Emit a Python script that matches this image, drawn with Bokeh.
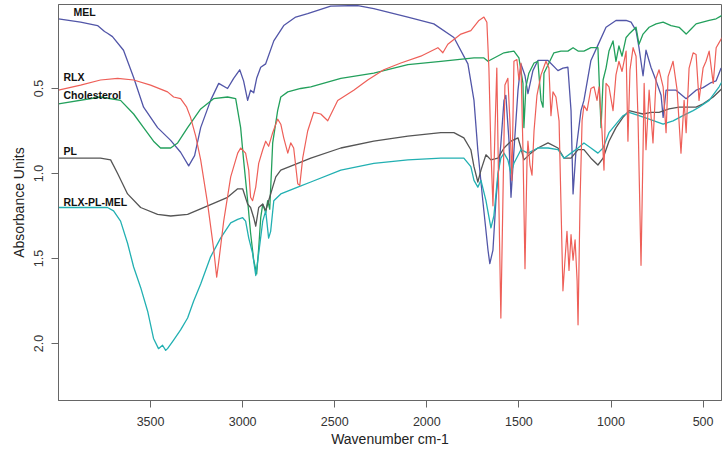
from bokeh.plotting import figure
from bokeh.models import Range1d, FixedTicker, NumeralTickFormatter
from bokeh.core.properties import value
from bokeh.embed import file_html
from bokeh.resources import INLINE

# ---------------- data (wavenumber cm-1, absorbance) ----------------
mel_wn = [4000, 3880, 3788, 3750, 3734, 3707, 3647, 3592, 3538, 3462, 3391, 3337, 3293, 3261, 3228,
          3174, 3130, 3082, 3049, 3016, 2995, 2973, 2957, 2940, 2924, 2902, 2875, 2831, 2777, 2712,
          2647, 2522, 2375, 2288, 2103, 1962, 1853, 1777, 1744, 1723, 1696, 1668, 1658, 1641, 1625,
          1598, 1581, 1571, 1554, 1543, 1527, 1505, 1489, 1467, 1451, 1424, 1397, 1342, 1288, 1261,
          1234, 1217, 1206, 1190, 1163, 1147, 1109, 1071, 1027, 973, 918, 891, 864, 848, 826, 810,
          783, 755, 728, 717, 701, 647, 592, 538, 500, 456, 429, 402]
mel_abs = [0.09, 0.11, 0.13, 0.165, 0.175, 0.195, 0.275, 0.435, 0.61, 0.73, 0.805, 0.875, 0.955, 0.895, 0.73,
           0.57, 0.47, 0.50, 0.44, 0.39, 0.455, 0.57, 0.51, 0.525, 0.44, 0.375, 0.355, 0.22, 0.13, 0.08,
           0.06, 0.015, 0.012, 0.03, 0.08, 0.12, 0.20, 0.355, 0.57, 0.865, 1.16, 1.45, 1.53, 1.45, 1.16,
           0.825, 0.57, 0.54, 0.805, 1.14, 0.865, 0.51, 0.355, 0.425, 0.53, 0.395, 0.335, 0.335, 0.395, 0.38,
           0.375, 0.63, 1.12, 0.865, 0.63, 0.57, 0.335, 0.245, 0.14, 0.10, 0.10, 0.11, 0.16, 0.26, 0.425, 0.275,
           0.375, 0.455, 0.54, 0.67, 0.51, 0.51, 0.56, 0.51, 0.495, 0.465, 0.455, 0.38]

rlx_wn = [4000, 3880, 3772, 3679, 3592, 3500, 3408, 3375, 3337, 3304, 3283, 3255, 3228, 3190, 3158,
          3141, 3130, 3103, 3065, 3027, 3011, 2984, 2967, 2957, 2946, 2929, 2913, 2891, 2875, 2859,
          2837, 2810, 2793, 2777, 2755, 2739, 2723, 2701, 2690, 2674, 2647, 2614, 2576, 2538, 2484,
          2397, 2321, 2234, 2141, 2033, 1940, 1913, 1886, 1815, 1761, 1717, 1690, 1674, 1663, 1652,
          1641, 1630, 1620, 1609, 1598, 1587, 1576, 1560, 1549, 1538, 1527, 1511, 1500, 1489, 1478,
          1467, 1456, 1451, 1440, 1429, 1418, 1402, 1380, 1353, 1337, 1326, 1315, 1299, 1282, 1272,
          1261, 1250, 1239, 1228, 1217, 1206, 1195, 1184, 1179, 1168, 1157, 1147, 1130, 1109, 1092,
          1076, 1065, 1049, 1038, 1027, 1011, 989, 973, 957, 940, 918, 908, 897, 880, 864,
          853, 837, 826, 820, 810, 793, 772, 755, 739, 717, 701, 690, 663, 641, 620,
          603, 592, 576, 554, 538, 522, 500, 484, 467, 445, 429, 413, 397]
rlx_abs = [0.51, 0.48, 0.45, 0.44, 0.45, 0.48, 0.52, 0.55, 0.56, 0.61, 0.67, 0.78, 0.92, 1.18, 1.44,
           1.61, 1.52, 1.28, 1.02, 0.88, 0.85, 0.88, 0.98, 1.14, 1.16, 1.08, 0.94, 0.86, 0.81, 0.84,
           0.76, 0.68, 0.71, 0.79, 0.88, 0.82, 0.85, 1.06, 1.07, 0.91, 0.75, 0.64, 0.65, 0.69, 0.57,
           0.51, 0.45, 0.39, 0.35, 0.31, 0.26, 0.29, 0.24, 0.18, 0.16, 0.10, 0.08, 0.11, 0.38, 0.86,
           1.19, 0.75, 0.38, 1.16, 1.85, 1.16, 0.48, 0.44, 0.69, 1.04, 0.34, 0.33, 0.45, 0.35, 0.86,
           1.56, 0.92, 0.81, 0.95, 1.01, 0.75, 0.54, 0.42, 0.34, 0.38, 0.66, 0.52, 0.55, 0.69, 1.16,
           1.69, 1.51, 1.34, 1.57, 1.36, 1.51, 1.39, 1.63, 1.89, 1.16, 0.69, 0.60, 0.63, 0.50, 0.49,
           0.57, 0.49, 0.75, 0.98, 0.47, 0.49, 0.63, 0.42, 0.34, 0.40, 0.28, 0.81, 0.39, 0.26, 0.31,
           0.69, 1.54, 0.86, 0.47, 0.86, 0.51, 0.82, 0.44, 0.39, 0.49, 0.76, 0.43, 0.34, 0.51, 0.88,
           0.57, 0.76, 0.38, 0.29, 0.30, 0.57, 0.38, 0.34, 0.28, 0.47, 0.26, 0.23, 0.20]

chol_wn = [4000, 3772, 3663, 3592, 3538, 3484, 3446, 3391, 3353, 3299, 3228, 3158, 3082, 3038, 3011,
           2995, 2973, 2957, 2940, 2924, 2913, 2902, 2891, 2875, 2864, 2853, 2837, 2810, 2793, 2755,
           2685, 2630, 2467, 2288, 2103, 1924, 1744, 1690, 1668, 1581, 1527, 1500, 1478, 1473, 1462,
           1446, 1418, 1397, 1380, 1369, 1364, 1337, 1310, 1272, 1234, 1206, 1179, 1147, 1109, 1071,
           1060, 1054, 1043, 1027, 1011, 989, 973, 957, 940, 918, 902, 864, 848, 826, 793,
           755, 717, 674, 630, 592, 565, 538, 467, 429, 397]
chol_abs = [0.59, 0.55, 0.57, 0.65, 0.73, 0.81, 0.85, 0.85, 0.82, 0.73, 0.62, 0.56, 0.55, 0.56, 0.73,
            0.92, 1.16, 1.35, 1.51, 1.59, 1.44, 1.26, 1.18, 1.23, 1.16, 1.21, 0.82, 0.63, 0.55, 0.52,
            0.50, 0.49, 0.44, 0.41, 0.36, 0.34, 0.32, 0.32, 0.34, 0.29, 0.28, 0.32, 0.47, 0.73, 0.49,
            0.41, 0.35, 0.34, 0.57, 0.61, 0.41, 0.35, 0.29, 0.28, 0.28, 0.26, 0.28, 0.28, 0.26, 0.26,
            0.57, 0.73, 0.45, 0.38, 0.28, 0.22, 0.34, 0.25, 0.31, 0.20, 0.18, 0.14, 0.24, 0.18, 0.14,
            0.12, 0.11, 0.13, 0.14, 0.18, 0.15, 0.12, 0.10, 0.09, 0.07]

pl_wn = [4000, 3772, 3717, 3679, 3625, 3554, 3462, 3391, 3299, 3190, 3082, 3027, 3000, 2973, 2957,
         2940, 2929, 2913, 2891, 2875, 2859, 2837, 2820, 2793, 2701, 2630, 2467, 2288, 2103, 1924,
         1853, 1799, 1761, 1744, 1723, 1706, 1679, 1652, 1614, 1581, 1543, 1505, 1489, 1473, 1435,
         1397, 1342, 1288, 1255, 1217, 1179, 1147, 1109, 1071, 1043, 1011, 973, 935, 902, 864,
         826, 783, 739, 685, 630, 576, 538, 500, 445, 397]
pl_abs = [0.91, 0.91, 0.92, 1.00, 1.12, 1.20, 1.24, 1.25, 1.24, 1.19, 1.14, 1.09, 1.09, 1.18, 1.20,
          1.26, 1.31, 1.20, 1.18, 1.22, 1.16, 1.08, 1.02, 0.98, 0.94, 0.91, 0.85, 0.81, 0.78, 0.76,
          0.76, 0.79, 0.86, 0.96, 1.05, 0.98, 0.89, 0.92, 0.91, 0.85, 0.81, 0.79, 0.85, 0.92, 0.88,
          0.85, 0.82, 0.85, 0.91, 0.91, 0.86, 0.86, 0.91, 0.95, 0.91, 0.81, 0.73, 0.67, 0.63, 0.64,
          0.65, 0.64, 0.64, 0.62, 0.61, 0.61, 0.61, 0.59, 0.55, 0.50]

mix_wn = [4000, 3734, 3701, 3663, 3625, 3592, 3554, 3516, 3484, 3457, 3435, 3418, 3408, 3375, 3337,
          3299, 3266, 3228, 3174, 3120, 3065, 3027, 3000, 2984, 2967, 2946, 2929, 2913, 2891, 2875,
          2859, 2848, 2831, 2793, 2701, 2630, 2467, 2288, 2103, 1924, 1799, 1761, 1744, 1723, 1706,
          1679, 1652, 1636, 1614, 1598, 1581, 1560, 1543, 1527, 1489, 1451, 1397, 1342, 1288, 1255,
          1217, 1179, 1147, 1109, 1071, 1043, 1011, 973, 935, 902, 848, 793, 717, 663, 609,
          554, 522, 467, 413, 397]
mix_abs = [1.20, 1.20, 1.22, 1.28, 1.41, 1.55, 1.67, 1.81, 1.97, 2.03, 2.01, 2.04, 2.03, 1.98, 1.92,
           1.85, 1.75, 1.65, 1.49, 1.38, 1.29, 1.27, 1.26, 1.28, 1.38, 1.47, 1.60, 1.47, 1.28, 1.22,
           1.38, 1.34, 1.16, 1.12, 1.08, 1.05, 0.98, 0.94, 0.92, 0.91, 0.91, 0.96, 1.04, 1.08, 1.04,
           1.16, 1.32, 1.25, 1.00, 0.91, 0.88, 0.92, 1.00, 0.94, 0.86, 0.88, 0.85, 0.85, 0.86, 0.91,
           0.88, 0.85, 0.82, 0.85, 0.88, 0.85, 0.76, 0.71, 0.66, 0.64, 0.66, 0.68, 0.71, 0.69, 0.66,
           0.63, 0.61, 0.57, 0.49, 0.46]

series_names = ["MEL", "RLX", "Cholesterol", "PL", "RLX-PL-MEL"]
label_wn = [3918, 3973, 3973, 3973, 3973]
label_abs = [0.05, 0.43, 0.54, 0.87, 1.165]

x_ticks = [3500, 3000, 2500, 2000, 1500, 1000, 500]
y_ticks = [0.5, 1.0, 1.5, 2.0]

# ---------------- figure ----------------
p = figure(width=725, height=450, output_backend="svg", toolbar_location=None,
           x_range=Range1d(4000, 400), y_range=Range1d(2.335, 0.006),
           min_border_left=58, min_border_right=4, min_border_top=4, min_border_bottom=50)
p.grid.visible = False
p.outline_line_color = "#666666"
p.outline_line_width = 1
p.background_fill_color = "white"
p.border_fill_color = "white"

colors = {"MEL": "#5256a8", "RLX": "#ee5f58", "Cholesterol": "#23a05c",
          "PL": "#555555", "RLX-PL-MEL": "#22b0b2"}

p.line(mel_wn, mel_abs, line_color=colors["MEL"], line_width=1.3, line_join="round")
p.line(chol_wn, chol_abs, line_color=colors["Cholesterol"], line_width=1.3, line_join="round")
p.line(pl_wn, pl_abs, line_color=colors["PL"], line_width=1.3, line_join="round")
p.line(mix_wn, mix_abs, line_color=colors["RLX-PL-MEL"], line_width=1.3, line_join="round")
p.line(rlx_wn, rlx_abs, line_color=colors["RLX"], line_width=1.2, line_join="round")

p.text(x=label_wn, y=label_abs, text=series_names, text_font=value("Liberation Sans"),
       text_font_size="10.5px", text_font_style="bold", text_color="#111111",
       text_baseline="middle", text_align="left")

for ax in (p.xaxis[0], p.yaxis[0]):
    ax.axis_line_color = "#666666"
    ax.major_tick_line_color = "#666666"
    ax.major_tick_in = 0
    ax.major_tick_out = 7
    ax.minor_tick_line_color = None
    ax.major_label_text_font = "Liberation Sans"
    ax.major_label_text_font_size = "12.5px"
    ax.major_label_text_color = "#333333"
    ax.axis_label_text_font = "Liberation Sans"
    ax.axis_label_text_font_size = "14px"
    ax.axis_label_text_font_style = "normal"
    ax.axis_label_text_color = "#222222"

p.xaxis.ticker = FixedTicker(ticks=x_ticks)
p.xaxis.axis_label = "Wavenumber cm-1"
p.xaxis.major_label_standoff = 9
p.xaxis.axis_label_standoff = 2

p.yaxis.ticker = FixedTicker(ticks=y_ticks)
p.yaxis.formatter = NumeralTickFormatter(format="0.0")
p.yaxis.major_label_orientation = "vertical"
p.yaxis.axis_label = "Absorbance Units"
p.yaxis.major_label_standoff = 8
p.yaxis.axis_label_standoff = 5

open("out.html", "w").write(file_html(p, INLINE))
